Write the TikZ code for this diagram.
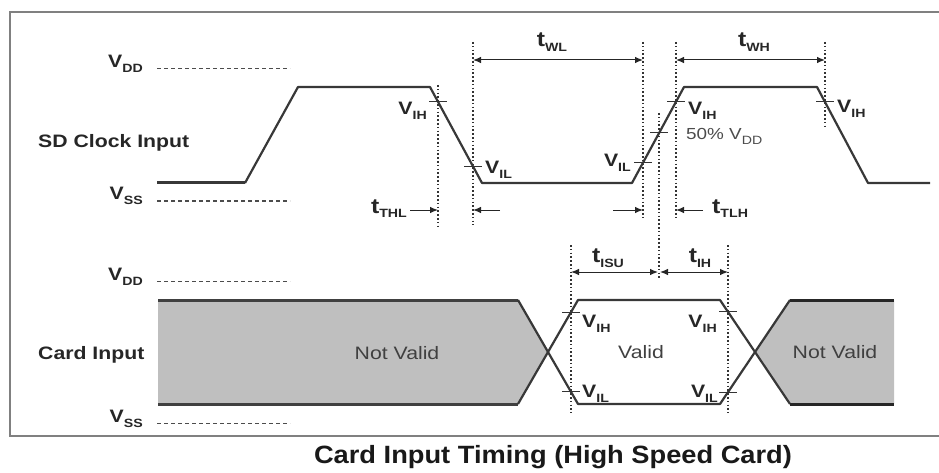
\documentclass[tikz,border=0pt]{standalone}
\usepackage{fontspec}
\setmainfont{Liberation Sans}[FakeStretch=1.18]
\newfontfamily\capfont{Liberation Sans}[FakeStretch=1.09]
\usetikzlibrary{arrows.meta}
\newcommand\Vs[2]{#1\raisebox{-5pt}{\fontsize{12}{12}\selectfont #2}}
\newcommand\Ts[2]{#1\raisebox{-5pt}{\fontsize{12}{12}\selectfont #2}}
\tikzset{
  sig/.style={line width=2.2pt, draw=black!78, line join=round},
  sigthick/.style={line width=3pt, draw=black!78},
  edgebar/.style={line width=3pt, draw=black!85},
  lvl/.style={draw=black!70, line width=1pt, dash pattern=on 4pt off 3pt},
  guide/.style={draw=black!80, line width=1.3pt, dash pattern=on 1.6pt off 2.2pt},
  tickmark/.style={draw=black!80, line width=1pt},
  dim/.style={draw=black!85, line width=1pt, arrows={-Latex[length=8pt,width=6.5pt]}},
  ddim/.style={draw=black!85, line width=1pt, arrows={Latex[length=8pt,width=6.5pt]-Latex[length=8pt,width=6.5pt]}},
  vlab/.style={inner sep=0pt, font=\fontsize{18}{18}\selectfont\bfseries, text=black!85},
  tlab/.style={inner sep=0pt, font=\fontsize{21}{21}\selectfont\bfseries, text=black!85},
  siglab/.style={inner sep=0pt, font=\fontsize{18}{18}\selectfont\bfseries, text=black!85},
  boxlab/.style={inner sep=0pt, font=\fontsize{18}{18}\selectfont, text=black!75},
  framebox/.style={draw=black!50, line width=2pt},
  graybox/.style={fill=black!25},
}
\begin{document}
\begin{tikzpicture}[x=1pt,y=-1pt]
\useasboundingbox (0,0) rectangle (939,473);
% frame
\coordinate (f1) at (939,12.5);
\coordinate (f2) at (10,12.5);
\coordinate (f3) at (10,436);
\coordinate (f4) at (939,436);
\draw[framebox] (f1) -- (f2) -- (f3) -- (f4);

% ---------------- SD clock ----------------
\coordinate (vdd1a) at (157,69);  \coordinate (vdd1b) at (290,69);
\coordinate (vss1a) at (157,201); \coordinate (vss1b) at (290,201);
\draw[lvl] (vdd1a) -- (vdd1b);
\draw[lvl] (vss1a) -- (vss1b);
\node[vlab, anchor=base east] (lvdd1) at (143,68) {\Vs{V}{DD}};
\node[vlab, anchor=base east] (lvss1) at (143,200) {\Vs{V}{SS}};
\node[siglab, anchor=base west] (lclk) at (38,148) {SD Clock Input};

\coordinate (c0) at (157,183);
\coordinate (c1) at (245,183);
\coordinate (c2) at (298,87);
\coordinate (c3) at (430,87);
\coordinate (c4) at (482,183);
\coordinate (c5) at (632,183);
\coordinate (c6) at (684,87);
\coordinate (c7) at (817,87);
\coordinate (c8) at (868,183);
\coordinate (c9) at (930,183);
\draw[sigthick] (c0) -- (c1);
\draw[sig] (c1) -- (c2) -- (c3) -- (c4) -- (c5) -- (c6) -- (c7) -- (c8) -- (c9);

% guides
\coordinate (g1t) at (438,85);  \coordinate (g1b) at (438,228);
\coordinate (g2t) at (473,42);  \coordinate (g2b) at (473,225);
\coordinate (g3t) at (643,42);  \coordinate (g3b) at (643,218);
\coordinate (g4t) at (659,113); \coordinate (g4b) at (659,280);
\coordinate (g5t) at (676,42);  \coordinate (g5b) at (676,218);
\coordinate (g6t) at (825,42);  \coordinate (g6b) at (825,128);
\foreach \g in {1,...,6} \draw[guide] (g\g t) -- (g\g b);

% ticks on clock
\coordinate (k1) at (438,101.8);
\coordinate (k2) at (473,166.4);
\coordinate (k3) at (643,162.7);
\coordinate (k4) at (659,133);
\coordinate (k5) at (676,101.8);
\coordinate (k6) at (825,101.8);
\foreach \k in {1,...,6} \draw[tickmark] (k\k) ++(-9,0) -- ++(18,0);

% clock labels
\node[vlab, anchor=base east] (vih1) at (427,115) {\Vs{V}{IH}};
\node[vlab, anchor=base west] (vil1) at (485,174) {\Vs{V}{IL}};
\node[vlab, anchor=base east] (vil2) at (631,167) {\Vs{V}{IL}};
\node[vlab, anchor=base west] (vih2) at (688,115) {\Vs{V}{IH}};
\node[boxlab, anchor=base west, text=black!70, font=\fontsize{16}{16}\selectfont] (half) at (686,140) {50\% \Vs{V}{DD}};
\node[vlab, anchor=base west] (vih3) at (837,113) {\Vs{V}{IH}};

% dimension arrows (clock)
\coordinate (wl1) at (473,60); \coordinate (wl2) at (643,60);
\coordinate (wh1) at (676,60); \coordinate (wh2) at (825,60);
\draw[ddim] (wl1) -- (wl2);
\draw[ddim] (wh1) -- (wh2);
\node[tlab, anchor=base] (twl) at (552,47) {\Ts{t}{WL}};
\node[tlab, anchor=base] (twh) at (754,47) {\Ts{t}{WH}};

\coordinate (thl1) at (410,210); \coordinate (thl2) at (438,210);
\coordinate (thl3) at (500,210); \coordinate (thl4) at (473,210);
\draw[dim] (thl1) -- (thl2);
\draw[dim] (thl3) -- (thl4);
\node[tlab, anchor=base east] (tthl) at (407,213) {\Ts{t}{THL}};

\coordinate (tlh1) at (613,210); \coordinate (tlh2) at (643,210);
\coordinate (tlh3) at (703,210); \coordinate (tlh4) at (676,210);
\draw[dim] (tlh1) -- (tlh2);
\draw[dim] (tlh3) -- (tlh4);
\node[tlab, anchor=base west] (ttlh) at (712,213) {\Ts{t}{TLH}};

% ---------------- Card input ----------------
\coordinate (vdd2a) at (157,281);  \coordinate (vdd2b) at (290,281);
\coordinate (vss2a) at (157,423);  \coordinate (vss2b) at (290,423);
\draw[lvl] (vdd2a) -- (vdd2b);
\draw[lvl] (vss2a) -- (vss2b);
\node[vlab, anchor=base east] (lvdd2) at (143,280) {\Vs{V}{DD}};
\node[vlab, anchor=base east] (lvss2) at (143,422) {\Vs{V}{SS}};
\node[siglab, anchor=base west] (lcard) at (38,359) {Card Input};

\coordinate (a0) at (158,300);
\coordinate (a1) at (518,300);
\coordinate (x1) at (548,352);
\coordinate (a2) at (518,404);
\coordinate (a3) at (158,404);
\coordinate (v1) at (578,300);
\coordinate (v2) at (578,404);
\coordinate (v3) at (720,300);
\coordinate (v4) at (720,404);
\coordinate (x2) at (755,352);
\coordinate (b1) at (790,300);
\coordinate (b2) at (894,300);
\coordinate (b3) at (894,404);
\coordinate (b4) at (790,404);

\fill[graybox] (a0) -- (a1) -- (x1) -- (a2) -- (a3) -- cycle;
\fill[graybox] (x2) -- (b1) -- (b2) -- (b3) -- (b4) -- cycle;
\draw[edgebar, draw=black!75] (a0) -- (a1);
\draw[edgebar, draw=black!75] (a3) -- (a2);
\draw[sig] (a1) -- (v2) -- (v4) -- (b1);
\draw[sig] (a2) -- (v1) -- (v3) -- (b4);
\draw[edgebar] (b1) -- (b2);
\draw[edgebar] (b4) -- (b3);

\coordinate (g7t) at (571,245); \coordinate (g7b) at (571,413);
\coordinate (g8t) at (728,245); \coordinate (g8b) at (728,413);
\draw[guide] (g7t) -- (g7b);
\draw[guide] (g8t) -- (g8b);

\coordinate (m1) at (571,312.1);
\coordinate (m2) at (571,391.9);
\coordinate (m3) at (728,311.9);
\coordinate (m4) at (728,392.1);
\foreach \k in {1,...,4} \draw[tickmark] (m\k) ++(-9,0) -- ++(18,0);

\node[vlab, anchor=base west] (vih4) at (582,327) {\Vs{V}{IH}};
\node[vlab, anchor=base west] (vil4) at (582,397) {\Vs{V}{IL}};
\node[vlab, anchor=base east] (vih5) at (717,327) {\Vs{V}{IH}};
\node[vlab, anchor=base east] (vil5) at (718,397) {\Vs{V}{IL}};

\node[boxlab] (nv1) at (397,353) {Not Valid};
\node[boxlab] (val) at (641,352) {Valid};
\node[boxlab] (nv2) at (835,352) {Not Valid};

\coordinate (su1) at (571,272); \coordinate (su2) at (658,272);
\coordinate (ih1) at (660,272); \coordinate (ih2) at (728,272);
\draw[ddim] (su1) -- (su2);
\draw[ddim] (ih1) -- (ih2);
\node[tlab, anchor=base] (tisu) at (608,262) {\Ts{t}{ISU}};
\node[tlab, anchor=base] (tih) at (700,262) {\Ts{t}{IH}};

% caption
\node[inner sep=0pt, font=\capfont\fontsize{25}{25}\selectfont\bfseries, text=black!90] (cap) at (553,457) {Card Input Timing (High Speed Card)};
\end{tikzpicture}
\end{document}
